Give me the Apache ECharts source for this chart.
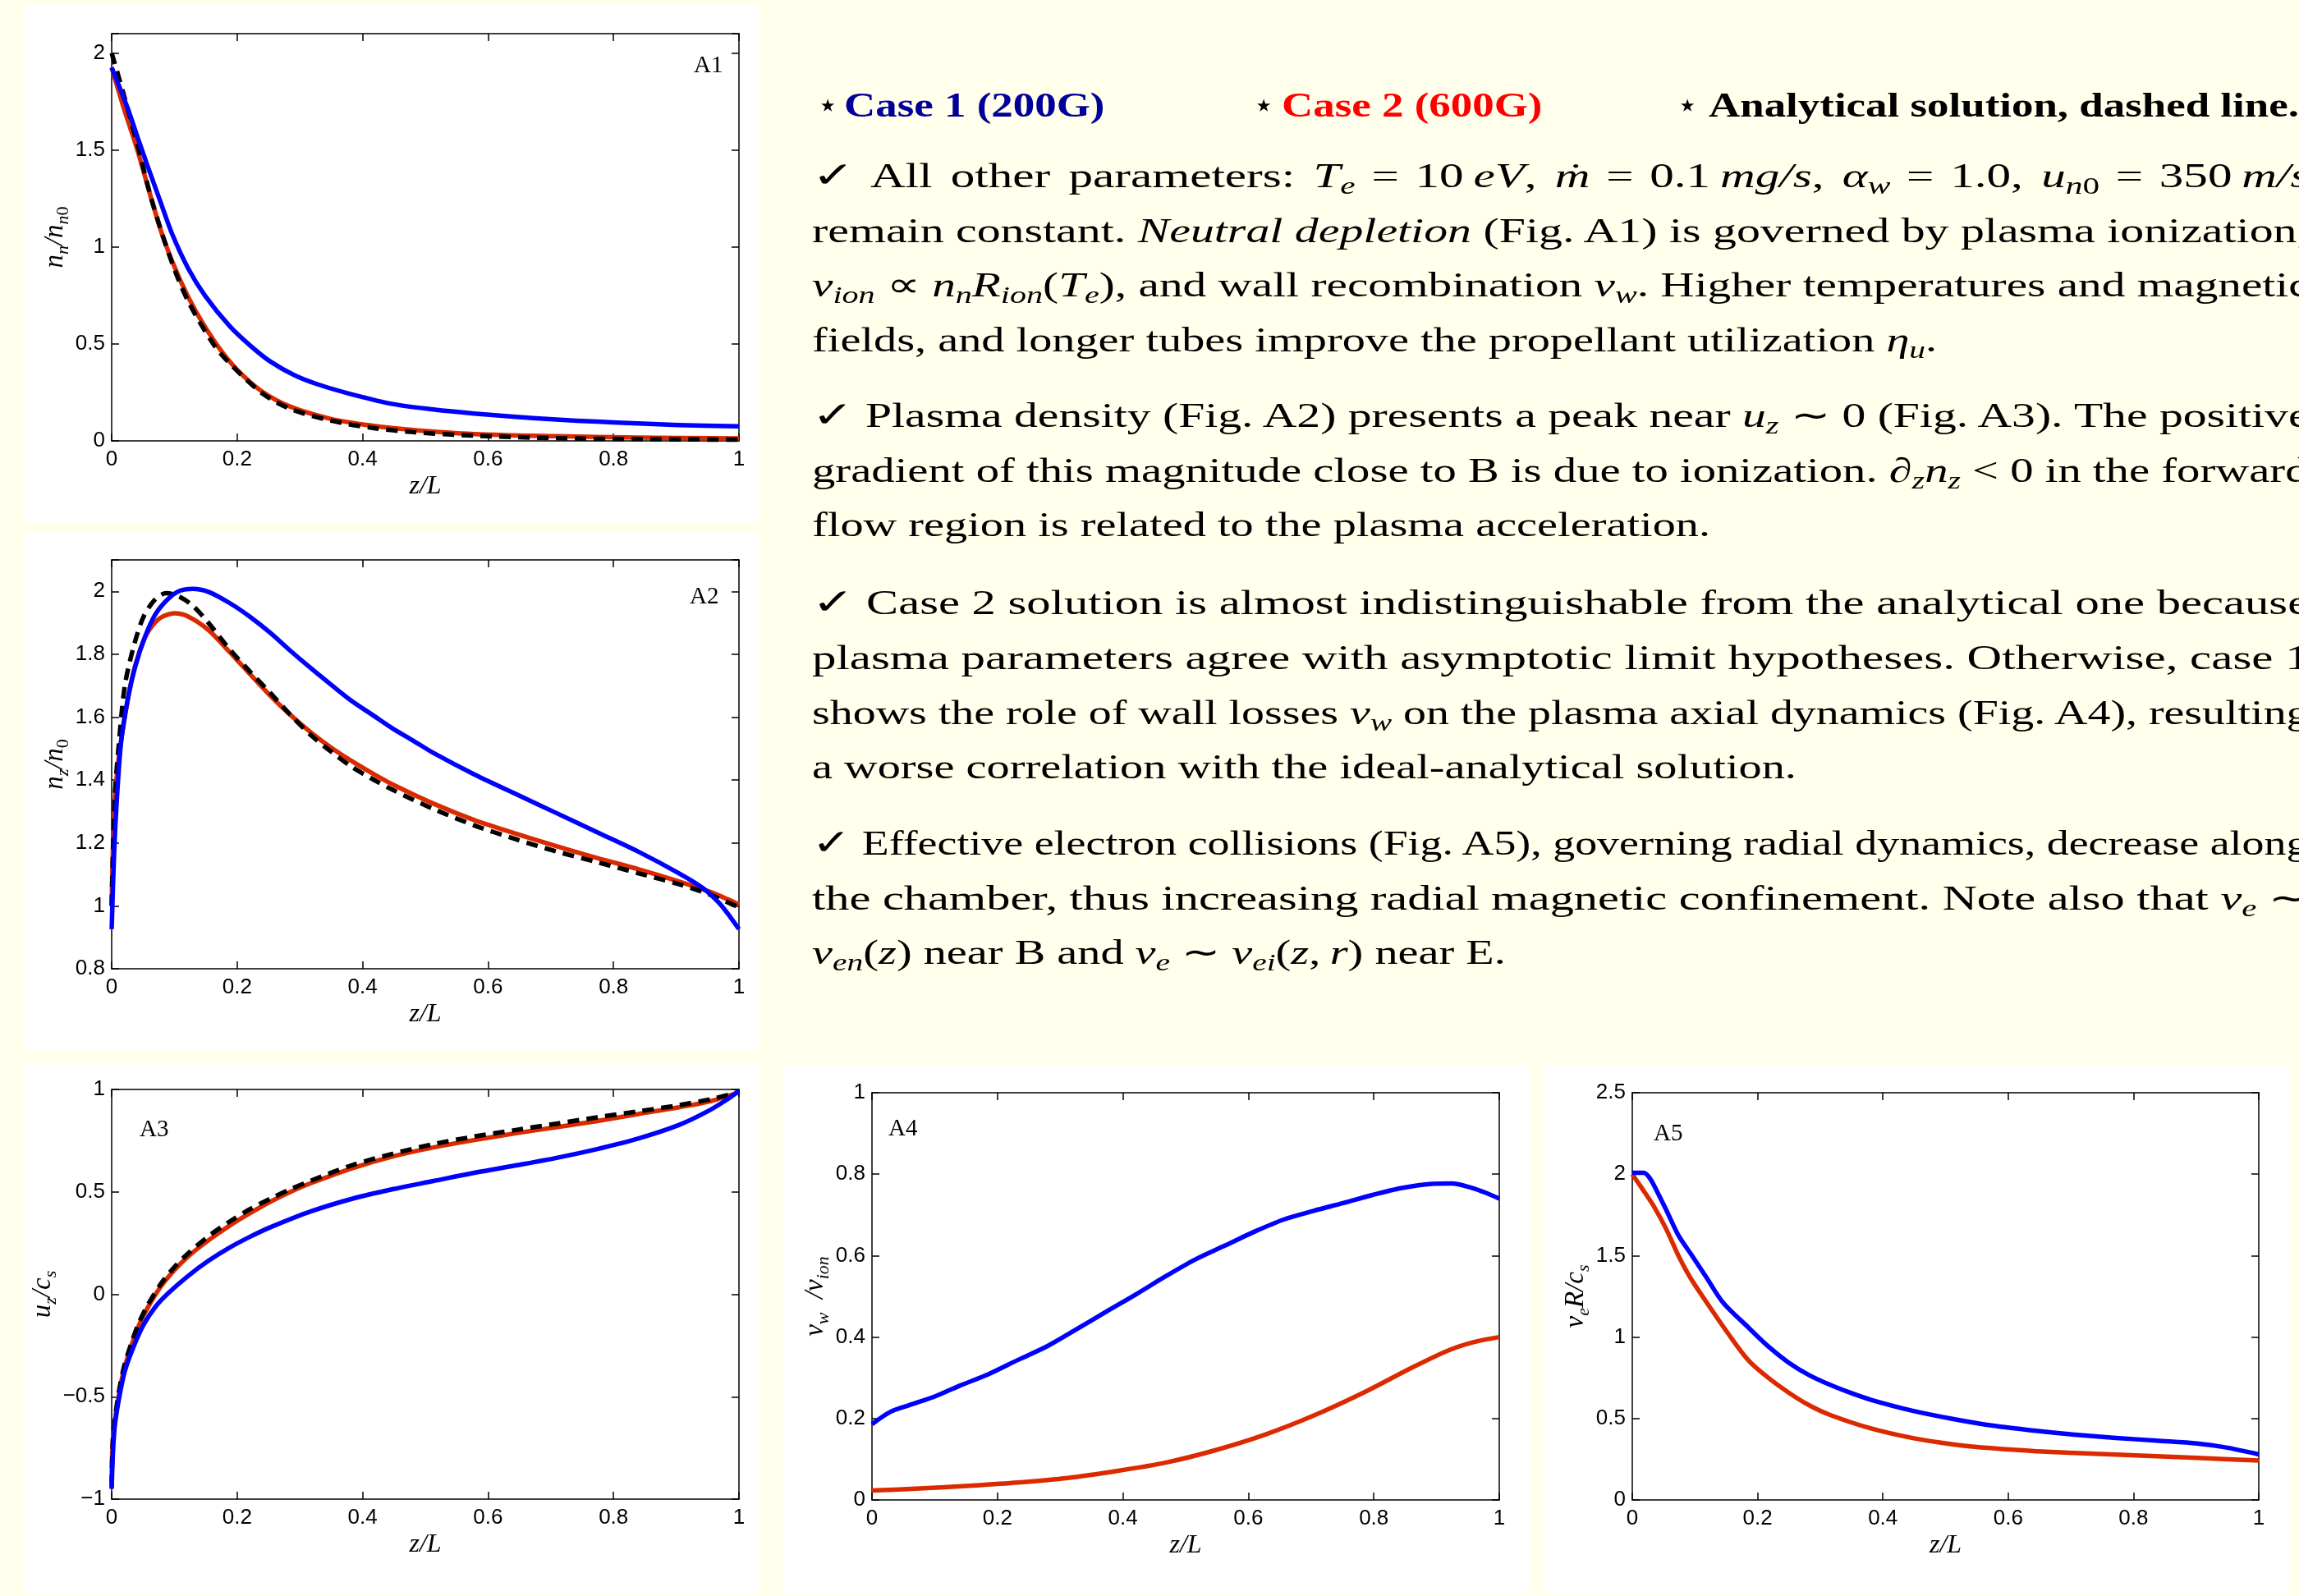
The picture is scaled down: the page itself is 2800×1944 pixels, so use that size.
<!DOCTYPE html>
<html><head><meta charset="utf-8">
<script src="https://cdn.jsdelivr.net/npm/echarts@6/dist/echarts.min.js"></script>
<style>
html,body{margin:0;padding:0;background:#FFFFEB;width:2800px;height:1944px;overflow:hidden;}
#chart{position:absolute;left:0;top:0;width:2800px;height:1944px;}
#txt{position:absolute;left:0;top:0;width:2800px;height:1944px;pointer-events:none;font-family:'Liberation Serif',serif;font-size:42px;color:#000;}
.ln{position:absolute;left:989px;top:0;white-space:nowrap;line-height:50px;transform-origin:0 0;}
.ln i{font-style:italic;}
.ln sub{font-size:0.7em;vertical-align:-0.28em;line-height:0;}
.sym{font-family:'DejaVu Sans',sans-serif;font-size:44px;}
.bl{display:inline-block;width:0;height:0;}
.bd{position:absolute;top:0;white-space:nowrap;line-height:50px;font-weight:bold;transform-origin:0 0;}
.star{position:absolute;top:0;white-space:nowrap;line-height:50px;font-family:'DejaVu Sans',sans-serif;font-size:42px;}
</style></head><body>
<div id="chart"></div>
<div id="txt"></div>
<script>
// ---------------- DATA ----------------
const xTicks = [0, 0.2, 0.4, 0.6, 0.8, 1];

// A1: neutral density n_n/n_n0
const a1YRange = [0, 2.1];
const a1YTicks = [0, 0.5, 1, 1.5, 2];
const a1BlueX = [0,0.025,0.044,0.057,0.077,0.096,0.122,0.149,0.188,0.22,0.253,0.292,0.331,0.383,0.448,0.513,0.578,0.644,0.709,0.774,0.839,0.904,1.0];
const a1BlueY = [1.925,1.72,1.54,1.42,1.24,1.07,0.889,0.748,0.592,0.494,0.409,0.338,0.289,0.24,0.19,0.162,0.141,0.124,0.11,0.099,0.09,0.082,0.075];
const a1RedX = [0,0.018,0.041,0.064,0.083,0.109,0.135,0.168,0.2,0.24,0.285,0.35,0.416,0.481,0.578,0.709,0.839,1.0];
const a1RedY = [1.925,1.73,1.5,1.24,1.04,0.83,0.663,0.494,0.367,0.254,0.176,0.113,0.078,0.056,0.035,0.024,0.017,0.013];
const a1AnaX = [0,0.018,0.041,0.064,0.096,0.122,0.162,0.188,0.24,0.285,0.35,0.416,0.481,0.578,0.709,0.839,1.0];
const a1AnaY = [2.0,1.8,1.53,1.24,0.92,0.72,0.5,0.4,0.245,0.165,0.104,0.067,0.045,0.027,0.014,0.009,0.006];

// A2: plasma density n_z/n_0
const a2YRange = [0.8, 2.1];
const a2YTicks = [0.8, 1, 1.2, 1.4, 1.6, 1.8, 2];
const a2BlueX = [0,0.004,0.0085,0.015,0.025,0.038,0.054,0.07,0.09,0.109,0.129,0.155,0.188,0.22,0.253,0.285,0.318,0.35,0.383,0.416,0.448,0.481,0.513,0.578,0.644,0.709,0.774,0.839,0.904,0.943,0.969,0.986,1.0];
const a2BlueY = [0.926,1.173,1.347,1.52,1.65,1.764,1.86,1.928,1.976,2.002,2.008,1.998,1.963,1.92,1.868,1.811,1.755,1.703,1.651,1.607,1.564,1.525,1.486,1.418,1.356,1.295,1.234,1.173,1.104,1.056,1.008,0.965,0.926];
const a2RedX = [0,0.004,0.01,0.018,0.031,0.044,0.057,0.077,0.1,0.122,0.155,0.188,0.22,0.253,0.285,0.318,0.35,0.383,0.416,0.448,0.513,0.578,0.644,0.709,0.774,0.839,0.904,0.956,0.982,1.0];
const a2RedY = [1.0,1.3,1.45,1.564,1.711,1.807,1.868,1.915,1.93,1.92,1.876,1.807,1.738,1.668,1.607,1.551,1.503,1.46,1.421,1.386,1.325,1.273,1.23,1.19,1.152,1.117,1.078,1.043,1.021,1.004];
const a2AnaX = [0,0.005,0.0117,0.021,0.035,0.051,0.07,0.087,0.106,0.129,0.155,0.188,0.22,0.253,0.285,0.318,0.35,0.383,0.416,0.448,0.513,0.578,0.644,0.709,0.774,0.839,0.904,0.956,1.0];
const a2AnaY = [1.0,1.347,1.52,1.7,1.824,1.92,1.976,1.994,1.985,1.955,1.898,1.816,1.746,1.677,1.607,1.542,1.49,1.442,1.403,1.369,1.308,1.256,1.212,1.173,1.139,1.104,1.069,1.034,0.995];

// A3: axial velocity u_z/c_s
const a3YRange = [-1, 1];
const a3YTicks = [-1, -0.5, 0, 0.5, 1];
const a3BlueX = [0,0.002,0.005,0.0117,0.021,0.035,0.051,0.07,0.09,0.122,0.155,0.188,0.22,0.253,0.318,0.383,0.448,0.513,0.578,0.644,0.709,0.774,0.839,0.904,0.95,0.982,1.0];
const a3BlueY = [-0.95,-0.776,-0.642,-0.509,-0.375,-0.255,-0.148,-0.06,0.005,0.09,0.165,0.228,0.28,0.327,0.405,0.466,0.513,0.553,0.593,0.629,0.666,0.709,0.76,0.826,0.893,0.953,0.993];
const a3RedX = [0,0.002,0.0085,0.018,0.031,0.044,0.057,0.077,0.096,0.122,0.155,0.188,0.22,0.253,0.285,0.318,0.383,0.448,0.513,0.578,0.644,0.709,0.774,0.839,0.904,0.956,1.0];
const a3RedY = [-0.92,-0.709,-0.549,-0.389,-0.255,-0.148,-0.068,0.032,0.105,0.185,0.265,0.335,0.395,0.452,0.5,0.543,0.615,0.673,0.717,0.753,0.786,0.816,0.846,0.88,0.913,0.944,0.987];
const a3AnaX = [0,0.002,0.0085,0.018,0.031,0.044,0.057,0.077,0.096,0.122,0.155,0.188,0.22,0.253,0.285,0.318,0.383,0.448,0.513,0.578,0.644,0.709,0.774,0.839,0.904,0.956,1.0];
const a3AnaY = [-0.94,-0.709,-0.535,-0.375,-0.242,-0.135,-0.055,0.045,0.119,0.2,0.285,0.355,0.415,0.467,0.513,0.555,0.63,0.686,0.733,0.77,0.802,0.833,0.864,0.893,0.923,0.953,0.987];

// A4: wall losses nu_w/nu_ion
const a4YRange = [0, 1];
const a4YTicks = [0, 0.2, 0.4, 0.6, 0.8, 1];
const a4BlueX = [0,0.029,0.06,0.1,0.139,0.186,0.233,0.28,0.327,0.374,0.422,0.469,0.516,0.563,0.61,0.657,0.704,0.751,0.798,0.845,0.892,0.924,0.955,0.979,1.0];
const a4BlueY = [0.186,0.216,0.233,0.254,0.28,0.309,0.344,0.378,0.42,0.463,0.506,0.55,0.591,0.625,0.659,0.689,0.71,0.729,0.749,0.766,0.776,0.777,0.767,0.754,0.74];
const a4RedX = [0,0.076,0.155,0.233,0.312,0.39,0.469,0.547,0.626,0.704,0.783,0.861,0.92,0.96,1.0];
const a4RedY = [0.023,0.028,0.035,0.043,0.054,0.071,0.092,0.122,0.16,0.207,0.263,0.325,0.368,0.388,0.4];

// A5: effective electron collisions nu_e R/c_s
const a5YRange = [0, 2.5];
const a5YTicks = [0, 0.5, 1, 1.5, 2, 2.5];
const a5BlueX = [0,0.018,0.028,0.041,0.054,0.074,0.093,0.119,0.145,0.185,0.217,0.25,0.282,0.315,0.348,0.38,0.446,0.511,0.576,0.641,0.706,0.772,0.837,0.902,0.948,1.0];
const a5BlueY = [2.008,2.008,1.975,1.883,1.782,1.622,1.513,1.362,1.211,1.06,0.943,0.842,0.767,0.708,0.658,0.616,0.549,0.498,0.456,0.426,0.401,0.381,0.364,0.347,0.322,0.28];
const a5RedX = [0,0.015,0.035,0.054,0.074,0.093,0.119,0.152,0.185,0.217,0.25,0.282,0.315,0.38,0.446,0.511,0.576,0.641,0.706,0.772,0.837,0.902,1.0];
const a5RedY = [2.0,1.916,1.799,1.664,1.497,1.362,1.211,1.027,0.859,0.75,0.658,0.582,0.523,0.44,0.381,0.342,0.317,0.3,0.289,0.279,0.268,0.258,0.242];

const panelLabels = ['A1', 'A2', 'A3', 'A4', 'A5'];

// ---------------- CHART ----------------
const BLUE = '#0000FF', RED = '#DB2A00', BLACK = '#000000';
const grids = [
  {left:136, top:41, width:764, height:496},
  {left:136, top:682, width:764, height:498},
  {left:136, top:1327, width:764, height:499},
  {left:1062, top:1331, width:764, height:496},
  {left:1988, top:1331, width:763, height:496}
];
const panels = [
  {yr:a1YRange, yt:a1YTicks, name:'{i|n}{s|n}{i|/n}{s|n}{u|0}', gap:42,
   lines:[[a1RedX,a1RedY,RED,false],[a1AnaX,a1AnaY,BLACK,true],[a1BlueX,a1BlueY,BLUE,false]],
   lab:[845,80]},
  {yr:a2YRange, yt:a2YTicks, name:'{i|n}{s|z}{i|/n}{u|0}', gap:42,
   lines:[[a2RedX,a2RedY,RED,false],[a2AnaX,a2AnaY,BLACK,true],[a2BlueX,a2BlueY,BLUE,false]],
   lab:[840,727]},
  {yr:a3YRange, yt:a3YTicks, name:'{i|u}{s|z}{i|/c}{s|s}', gap:57,
   lines:[[a3RedX,a3RedY,RED,false],[a3AnaX,a3AnaY,BLACK,true],[a3BlueX,a3BlueY,BLUE,false]],
   lab:[170,1376]},
  {yr:a4YRange, yt:a4YTicks, name:'{i|ν}{s|w}{i|  /ν}{s|ion}', gap:43,
   lines:[[a4RedX,a4RedY,RED,false],[a4BlueX,a4BlueY,BLUE,false]],
   lab:[1082,1375]},
  {yr:a5YRange, yt:a5YTicks, name:'{i|ν}{s|e}{i|R/c}{s|s}', gap:46,
   lines:[[a5RedX,a5RedY,RED,false],[a5BlueX,a5BlueY,BLUE,false]],
   lab:[2014,1381]}
];

const rich = {
  i:{fontFamily:'Liberation Serif', fontStyle:'italic', fontSize:33, color:'#000', verticalAlign:'bottom', padding:[0,0,4,0]},
  s:{fontFamily:'Liberation Serif', fontStyle:'italic', fontSize:22, color:'#000', verticalAlign:'bottom'},
  u:{fontFamily:'Liberation Serif', fontSize:22, color:'#000', verticalAlign:'bottom'}
};
function fmtNum(v){ return String(+v.toFixed(2)).replace('-', '\u2212'); }
function inTicks(ticks, v){ return ticks.some(t => Math.abs(t - v) < 1e-9); }

const axisLineStyle = {color:'#000', width:1.5};
const xAxes = [], yAxes = [], series = [], graphics = [];

// white panels behind the figures
[[29,6,896,630],[29,650,896,628],[29,1296,896,645],[955,1297,908,644],[1881,1297,907,644]].forEach(r=>{
  graphics.push({type:'rect', z:-100, silent:true, shape:{x:r[0], y:r[1], width:r[2], height:r[3]}, style:{fill:'#FFFFFF'}});
});

panels.forEach((p, k) => {
  const yInt = +(p.yt[1] - p.yt[0]).toFixed(6);
  xAxes.push({
    gridIndex:k, type:'value', min:xTicks[0], max:xTicks[xTicks.length-1], interval:xTicks[1]-xTicks[0], position:'bottom',
    axisLine:{show:true, onZero:false, lineStyle:axisLineStyle},
    axisTick:{show:true, inside:true, length:9, lineStyle:axisLineStyle},
    axisLabel:{show:true, margin:10, color:'#000', fontFamily:'Liberation Sans', fontSize:26,
      formatter: v => inTicks(xTicks, v) ? fmtNum(v) : ''},
    splitLine:{show:false},
    name:'z/L', nameLocation:'middle', nameGap:40,
    nameTextStyle:{fontFamily:'Liberation Serif', fontStyle:'italic', fontSize:32, color:'#000'}
  });
  xAxes.push({
    gridIndex:k, type:'value', min:xTicks[0], max:xTicks[xTicks.length-1], interval:xTicks[1]-xTicks[0], position:'top',
    axisLine:{show:true, onZero:false, lineStyle:axisLineStyle},
    axisTick:{show:true, inside:true, length:9, lineStyle:axisLineStyle},
    axisLabel:{show:false}, splitLine:{show:false}
  });
  yAxes.push({
    gridIndex:k, type:'value', min:p.yr[0], max:p.yr[1], interval:yInt, position:'left',
    axisLine:{show:true, onZero:false, lineStyle:axisLineStyle},
    axisTick:{show:true, inside:true, length:9, lineStyle:axisLineStyle},
    axisLabel:{show:true, margin:8, color:'#000', fontFamily:'Liberation Sans', fontSize:26,
      formatter: v => inTicks(p.yt, v) ? fmtNum(v) : ''},
    splitLine:{show:false},
    name:p.name, nameLocation:'middle', nameGap:p.gap,
    nameTextStyle:{rich:rich}
  });
  yAxes.push({
    gridIndex:k, type:'value', min:p.yr[0], max:p.yr[1], interval:yInt, position:'right',
    axisLine:{show:true, onZero:false, lineStyle:axisLineStyle},
    axisTick:{show:true, inside:true, length:9, lineStyle:axisLineStyle},
    axisLabel:{show:false}, splitLine:{show:false}
  });
  p.lines.forEach(l => {
    series.push({
      type:'line', xAxisIndex:2*k, yAxisIndex:2*k, showSymbol:false, symbol:'none',
      smooth:0.3, animation:false, silent:true,
      data:l[0].map((x,i)=>[x, l[1][i]]),
      lineStyle:{color:l[2], width:5.5, type: l[3] ? [14,9] : 'solid', join:'round'},
      z: l[2]===BLUE ? 4 : 3
    });
  });
  graphics.push({type:'text', z:50, silent:true, style:{text:panelLabels[k], x:p.lab[0], y:p.lab[1],
    fontFamily:'Liberation Serif', fontSize:29, fill:'#000', align:'left', verticalAlign:'middle'}});
});

const chart = echarts.init(document.getElementById('chart'), null, {renderer:'canvas', width:2800, height:1944});
chart.setOption({
  backgroundColor:'transparent', animation:false,
  grid:grids.map(g=>Object.assign({containLabel:false}, g)),
  xAxis:xAxes, yAxis:yAxes, series:series, graphic:graphics
});

// ---------------- TEXT PANEL ----------------
const CHK = '<span class="sym">\u2713</span>';
const SP = '\u2005', EQ = '\u2004';
const textLines = [
  {b:228, j:true, h:CHK+' All other parameters: <i>T</i><sub><i>e</i></sub>'+EQ+'='+EQ+'10\u2009<i>eV</i>, <i>\u1e41</i>'+EQ+'='+EQ+'0.1\u2009<i>mg/s</i>, <i>\u03b1</i><sub><i>w</i></sub>'+EQ+'='+EQ+'1.0, <i>u</i><sub><i>n</i>0</sub>'+EQ+'='+EQ+'350\u2009<i>m/s</i>'},
  {b:295, j:true, h:'remain constant. <i>Neutral depletion</i> (Fig. A1) is governed by plasma ionization,'},
  {b:361, j:true, h:'<i>\u03bd</i><sub><i>ion</i></sub>'+SP+'\u221d'+SP+'<i>n</i><sub><i>n</i></sub><i>R</i><sub><i>ion</i></sub>(<i>T</i><sub><i>e</i></sub>), and wall recombination <i>\u03bd</i><sub><i>w</i></sub>. Higher temperatures and magnetic'},
  {b:428, j:false, end:2336, h:'fields, and longer tubes improve the propellant utilization <i>\u03b7</i><sub><i>u</i></sub>.'},
  {b:520, j:true, h:CHK+' Plasma density (Fig. A2) presents a peak near <i>u</i><sub><i>z</i></sub>'+SP+'\u223c'+SP+'0 (Fig. A3). The positive'},
  {b:587, j:true, h:'gradient of this magnitude close to B is due to ionization. \u2202<sub><i>z</i></sub><i>n</i><sub><i>z</i></sub>'+SP+'&lt;'+SP+'0 in the forward'},
  {b:653, j:false, end:2052, h:'flow region is related to the plasma acceleration.'},
  {b:748, j:true, h:CHK+' Case 2 solution is almost indistinguishable from the analytical one because'},
  {b:815, j:true, h:'plasma parameters agree with asymptotic limit hypotheses. Otherwise, case 1'},
  {b:882, j:true, h:'shows the role of wall losses <i>\u03bd</i><sub><i>w</i></sub> on the plasma axial dynamics (Fig. A4), resulting'},
  {b:948, j:false, h:'a worse correlation with the ideal-analytical solution.'},
  {b:1041, j:true, h:CHK+' Effective electron collisions (Fig. A5), governing radial dynamics, decrease along'},
  {b:1108, j:true, h:'the chamber, thus increasing radial magnetic confinement. Note also that <i>\u03bd</i><sub><i>e</i></sub>'+SP+'\u223c'},
  {b:1174, j:false, end:1871, h:'<i>\u03bd</i><sub><i>en</i></sub>(<i>z</i>) near B and <i>\u03bd</i><sub><i>e</i></sub>'+SP+'\u223c'+SP+'<i>\u03bd</i><sub><i>ei</i></sub>(<i>z</i>,\u2009<i>r</i>) near E.'}
];
const headItems = [
  {star:995, left:1028, w:317, text:'Case 1 (200G)', color:'#000099'},
  {star:1526, left:1561, w:318, text:'Case 2 (600G)', color:'#FF0000'},
  {star:2042, left:2081, w:0, text:'Analytical solution, dashed line.', color:'#000000'}
];
const headBase = 142;

function placeBaseline(el, b){
  el.style.top = '0px';
  const bl = el.querySelector('.bl');
  const off = bl.getBoundingClientRect().top - el.getBoundingClientRect().top;
  el.style.top = (b - off) + 'px';
}
function layoutText(){
  const host = document.getElementById('txt');
  const L = 989, R = 2812;
  const els = textLines.map(t => {
    const d = document.createElement('div'); d.className = 'ln';
    d.innerHTML = t.h + '<span class="bl"></span>';
    host.appendChild(d); return d;
  });
  els.forEach((d,i)=>placeBaseline(d, textLines[i].b));
  const nat = els.map(d => d.offsetWidth);
  const ratios = [];
  textLines.forEach((t,i)=>{ if(t.end) ratios.push((t.end - L)/nat[i]); });
  const s = ratios.reduce((a,b)=>a+b,0)/ratios.length;
  els.forEach((d,i)=>{
    let sl = s;
    if (textLines[i].j){
      sl = Math.min(s*1.05, Math.max(s*0.95, (R - L)/nat[i]));
      const n = (d.textContent.match(/ /g) || []).length;
      d.style.wordSpacing = (((R - L)/sl - nat[i]) / n) + 'px';
    }
    d.style.transform = 'scaleX(' + sl + ')';
  });
  // heading row
  const hs = [];
  headItems.forEach(h => {
    const st = document.createElement('div'); st.className = 'star';
    st.innerHTML = '\u22c6<span class="bl"></span>'; st.style.left = h.star + 'px';
    host.appendChild(st); placeBaseline(st, headBase);
    const d = document.createElement('div'); d.className = 'bd';
    d.style.left = h.left + 'px'; d.style.color = h.color;
    d.innerHTML = h.text + '<span class="bl"></span>';
    host.appendChild(d); placeBaseline(d, headBase);
    hs.push([d, h]);
  });
  const hr = hs.filter(x=>x[1].w).map(x=>x[1].w / x[0].offsetWidth);
  const hsScale = hr.reduce((a,b)=>a+b,0)/hr.length;
  hs.forEach(x => { x[0].style.transform = 'scaleX(' + hsScale + ')'; });
}
if (document.fonts && document.fonts.ready) { document.fonts.ready.then(layoutText); } else { layoutText(); }
</script>
</body></html>
